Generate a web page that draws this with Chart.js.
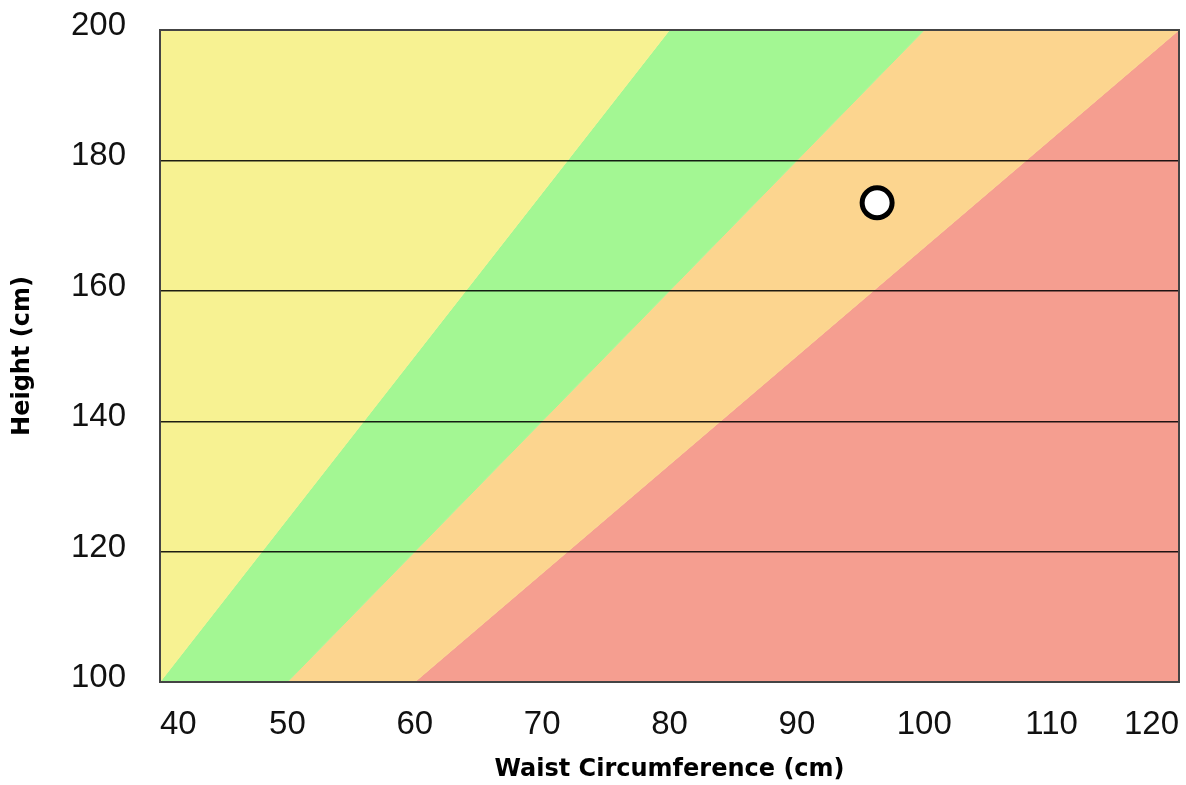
<!DOCTYPE html>
<html>
<head>
<meta charset="utf-8">
<script src="https://cdn.jsdelivr.net/npm/chart.js@4/dist/chart.umd.min.js"></script>
<style>
  html, body { margin: 0; padding: 0; background: #fff; }
  #wrap { width: 1186px; height: 785px; position: relative; }
</style>
</head>
<body>
<div id="wrap"><canvas id="whtr"></canvas></div>
<script>
// height range of the chart (cm)
const heightBounds = [100, 200];
// waist where each zone boundary meets the bottom (height 100) and top (height 200)
const boundaryWaistAtMin = [40, 50, 60];
const boundaryWaistAtMax = [80, 100, 120];
const waistRange = [40, 120];
const zoneNames = ["Slim", "Healthy", "Overweight", "Obese"];

// the plotted person
const personWaist = [96.3];
const personHeight = [173.5];

const zoneColors = ["#f7f292", "#a3f793", "#fcd58f", "#f59e90"];

const lo = heightBounds[0], hi = heightBounds[1];
const zonePolys = [
  [[waistRange[0], lo], [boundaryWaistAtMax[0], hi], [waistRange[0], hi]],
  [[boundaryWaistAtMin[0], lo], [boundaryWaistAtMin[1], lo], [boundaryWaistAtMax[1], hi], [boundaryWaistAtMax[0], hi]],
  [[boundaryWaistAtMin[1], lo], [boundaryWaistAtMin[2], lo], [boundaryWaistAtMax[2], hi], [boundaryWaistAtMax[1], hi]],
  [[boundaryWaistAtMin[2], lo], [waistRange[1], lo], [waistRange[1], hi], [boundaryWaistAtMax[2], hi]]
];

const zoneSets = zonePolys.map((poly, i) => ({
  type: "line",
  label: zoneNames[i],
  data: poly.map(p => ({ x: p[0], y: p[1] })),
  backgroundColor: zoneColors[i],
  borderColor: zoneColors[i],
  borderWidth: 1,
  pointRadius: 0,
  tension: 0,
  fill: "shape",
  order: 2
}));

const frame = {
  id: "frame",
  afterDraw(chart) {
    const { ctx, chartArea: a } = chart;
    ctx.save();
    ctx.strokeStyle = "#444";
    ctx.lineWidth = 2;
    ctx.strokeRect(a.left, a.top, a.right - a.left, a.bottom - a.top);
    ctx.restore();
  }
};

const tickFont = { family: "'Liberation Sans', Arial, sans-serif", size: 33 };
const titleFont = { family: "'DejaVu Sans', sans-serif", size: 24, weight: "bold" };

new Chart(document.getElementById("whtr"), {
  type: "scatter",
  data: {
    datasets: [
      ...zoneSets,
      {
        type: "scatter",
        label: "You",
        data: personWaist.map((w, i) => ({ x: w, y: personHeight[i] })),
        backgroundColor: "#fff",
        borderColor: "#000",
        borderWidth: 5,
        pointRadius: 15,
        order: 1
      }
    ]
  },
  options: {
    responsive: true,
    maintainAspectRatio: false,
    animation: false,
    layout: { autoPadding: false, padding: { top: 30, right: 7, bottom: 0, left: 0 } },
    plugins: { legend: { display: false }, tooltip: { enabled: false } },
    scales: {
      x: {
        type: "linear",
        min: waistRange[0],
        max: waistRange[1],
        ticks: { stepSize: 10, color: "#111", font: tickFont, padding: 7, align: "inner", maxRotation: 0 },
        grid: { display: true, drawOnChartArea: false, drawTicks: true, tickLength: 16, tickColor: "rgba(0,0,0,0)" },
        border: { display: false },
        title: { display: true, text: "Waist Circumference (cm)", color: "#000", font: titleFont, padding: { top: 0, bottom: 1 } },
        afterFit: s => { s.height = 103; s.paddingLeft = 0; s.paddingRight = 0; }
      },
      y: {
        min: heightBounds[0],
        max: heightBounds[1],
        ticks: { stepSize: 20, color: "#111", font: tickFont, padding: 7, labelOffset: -4 },
        grid: { color: "rgba(0,0,0,0.88)", lineWidth: 1.4, drawTicks: true, tickLength: 27, tickColor: "rgba(0,0,0,0)", z: 1 },
        border: { display: false },
        title: { display: true, text: "Height (cm)", color: "#000", font: titleFont, padding: { top: 8, bottom: 0 } },
        afterFit: s => { s.width = 160; s.paddingTop = 0; s.paddingBottom = 0; }
      }
    }
  },
  plugins: [frame]
});
</script>
</body>
</html>
